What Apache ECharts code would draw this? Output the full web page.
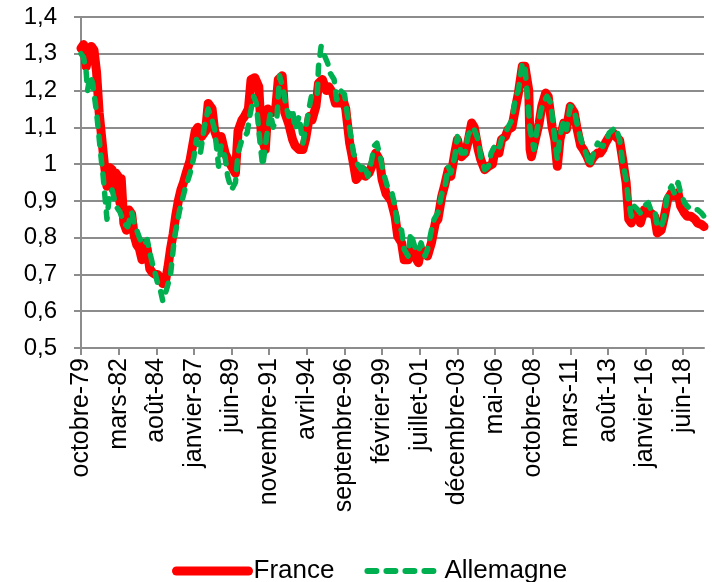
<!DOCTYPE html>
<html><head><meta charset="utf-8">
<script src="https://cdn.jsdelivr.net/npm/echarts@6/dist/echarts.min.js"></script>
<style>html,body{margin:0;padding:0;background:#fff}#c{width:712px;height:582px}</style>
</head><body><div id="c"></div>
<script>
// Month names (French) used to build the monthly categories, Oct 1979 onward
const monthNames = ['janvier','février','mars','avril','mai','juin','juillet','août','septembre','octobre','novembre','décembre'];
const startYear = 1979, startMonthIdx = 9, monthCount = 481;

// Y axis range / tick labels
const yMin = 0.5, yMax = 1.4, yStep = 0.1;

// Series values: [month index from oct-79, value]
const france = [[0,1.315],[2,1.325],[4,1.265],[6,1.30],[8,1.32],[10,1.31],[12,1.25],[14,1.14],[16,1.07],[18,1.0],[20,0.94],[22,0.99],[24,0.985],[25,0.93],[27,0.975],[29,0.965],[30,0.895],[31,0.96],[33,0.84],[35,0.82],[37,0.875],[39,0.865],[41,0.805],[43,0.78],[45,0.77],[47,0.74],[49,0.785],[51,0.77],[53,0.715],[55,0.705],[57,0.70],[59,0.70],[61,0.69],[63,0.675],[65,0.68],[67,0.72],[69,0.77],[71,0.81],[73,0.86],[75,0.90],[77,0.93],[79,0.95],[81,0.975],[84,1.01],[86,1.05],[88,1.09],[90,1.10],[93,1.075],[96,1.09],[98,1.165],[101,1.15],[103,1.09],[106,1.06],[108,1.075],[111,1.03],[115,1.0],[119,0.975],[121,1.09],[124,1.12],[126,1.13],[129,1.15],[131,1.23],[134,1.235],[137,1.21],[139,1.075],[142,1.04],[144,1.15],[147,1.14],[150,1.15],[152,1.23],[155,1.24],[157,1.14],[160,1.11],[163,1.067],[165,1.05],[168,1.04],[171,1.04],[173,1.067],[176,1.13],[178,1.12],[181,1.157],[183,1.22],[186,1.23],[189,1.2],[191,1.21],[194,1.193],[196,1.166],[199,1.166],[201,1.184],[204,1.15],[207,1.057],[209,1.02],[212,0.958],[214,0.967],[217,0.985],[219,0.967],[222,0.976],[225,1.003],[227,1.03],[230,1.012],[232,0.958],[235,0.92],[237,0.91],[239,0.90],[242,0.858],[244,0.804],[247,0.786],[249,0.74],[252,0.74],[255,0.777],[257,0.75],[260,0.732],[262,0.768],[265,0.76],[267,0.75],[270,0.786],[273,0.84],[275,0.85],[278,0.913],[280,0.94],[283,0.985],[285,0.967],[288,1.03],[290,1.067],[293,1.02],[296,1.03],[298,1.057],[301,1.112],[303,1.10],[306,1.04],[308,1.012],[311,0.985],[314,0.994],[317,1.0],[319,1.04],[322,1.03],[324,1.067],[327,1.075],[329,1.094],[332,1.10],[335,1.157],[337,1.193],[340,1.266],[342,1.266],[345,1.20],[346,1.04],[347,1.02],[350,1.067],[353,1.112],[355,1.157],[358,1.193],[360,1.184],[363,1.10],[365,1.067],[367,0.994],[369,1.067],[372,1.112],[374,1.094],[377,1.157],[380,1.14],[382,1.10],[385,1.05],[387,1.04],[390,1.02],[392,1.003],[395,1.02],[398,1.03],[400,1.03],[402,1.04],[404,1.057],[407,1.075],[410,1.085],[412,1.075],[415,1.065],[417,1.02],[420,0.95],[422,0.85],[424,0.84],[426,0.876],[429,0.858],[431,0.84],[434,0.876],[437,0.867],[439,0.867],[442,0.858],[444,0.813],[447,0.82],[449,0.85],[452,0.904],[455,0.922],[457,0.913],[460,0.922],[462,0.886],[465,0.867],[467,0.858],[470,0.858],[473,0.85],[475,0.84],[478,0.836],[480,0.83]];

const allemagne = [[0,1.30],[2,1.29],[4,1.25],[5,1.20],[7,1.24],[9,1.22],[12,1.14],[14,1.07],[16,1.0],[17,0.97],[19,0.89],[20,0.85],[22,0.92],[24,0.93],[26,0.90],[28,0.88],[30,0.87],[33,0.84],[36,0.83],[39,0.87],[41,0.84],[43,0.82],[45,0.80],[47,0.785],[49,0.78],[51,0.795],[53,0.76],[55,0.73],[57,0.705],[59,0.677],[61,0.66],[63,0.628],[66,0.66],[69,0.70],[72,0.80],[76,0.875],[80,0.93],[84,0.975],[87,1.02],[89,1.067],[92,1.03],[95,1.10],[98,1.15],[101,1.12],[103,1.094],[106,0.994],[108,1.05],[111,1.02],[113,0.967],[116,0.93],[119,0.95],[121,1.03],[124,1.067],[128,1.085],[130,1.13],[133,1.184],[135,1.166],[138,1.057],[140,0.994],[143,1.075],[146,1.14],[148,1.10],[151,1.13],[153,1.24],[156,1.2],[158,1.157],[160,1.13],[163,1.15],[165,1.094],[168,1.13],[171,1.057],[173,1.094],[176,1.157],[178,1.193],[182,1.19],[183,1.266],[185,1.32],[187,1.30],[190,1.275],[192,1.247],[195,1.23],[197,1.175],[200,1.2],[203,1.19],[205,1.14],[208,1.075],[210,1.03],[213,1.0],[216,0.985],[218,1.0],[221,0.967],[223,0.994],[226,1.05],[228,1.057],[231,1.012],[233,0.976],[236,0.94],[239,0.93],[242,0.885],[244,0.83],[247,0.82],[249,0.768],[252,0.75],[254,0.813],[257,0.777],[260,0.76],[262,0.786],[265,0.75],[267,0.768],[270,0.82],[272,0.85],[275,0.868],[278,0.92],[280,0.93],[283,0.994],[285,0.976],[288,1.02],[290,1.075],[293,1.03],[296,1.03],[298,1.075],[301,1.10],[303,1.094],[306,1.067],[308,1.02],[311,0.985],[314,0.994],[316,1.03],[319,1.05],[322,1.04],[324,1.067],[327,1.085],[329,1.10],[332,1.12],[335,1.184],[337,1.20],[340,1.275],[342,1.266],[344,1.184],[346,1.094],[349,1.04],[351,1.085],[354,1.14],[356,1.166],[359,1.184],[362,1.166],[364,1.10],[367,1.012],[369,1.075],[372,1.12],[374,1.094],[377,1.157],[380,1.148],[382,1.112],[385,1.067],[387,1.05],[390,1.02],[392,0.994],[395,1.03],[398,1.057],[402,1.048],[405,1.067],[407,1.085],[410,1.094],[412,1.10],[415,1.067],[417,1.012],[420,0.958],[422,0.895],[424,0.858],[426,0.886],[429,0.876],[431,0.867],[434,0.886],[437,0.895],[439,0.876],[442,0.876],[444,0.83],[447,0.83],[449,0.85],[452,0.922],[455,0.94],[457,0.922],[460,0.95],[462,0.922],[465,0.895],[467,0.886],[470,0.876],[473,0.876],[475,0.876],[478,0.867],[480,0.858]];

const categories = [];
for (let k = 0; k < monthCount; k++) {
  const m = (startMonthIdx + k) % 12;
  const y = startYear + Math.floor((startMonthIdx + k) / 12);
  categories.push(monthNames[m] + '-' + String(y % 100).padStart(2, '0'));
}

const FONT = 'Liberation Sans, Arial, sans-serif';
const gray = '#8c8c8c';
const chart = echarts.init(document.getElementById('c'), null, {renderer: 'canvas'});
chart.setOption({
  animation: false,
  backgroundColor: '#fff',
  grid: {left: 81, right: 8, top: 17, bottom: 234, containLabel: false},
  xAxis: {
    type: 'category', data: categories, boundaryGap: false,
    axisLine: {lineStyle: {color: gray, width: 2}},
    axisTick: {show: true, interval: 28, length: 7, lineStyle: {color: gray, width: 2}},
    axisLabel: {interval: 28, rotate: 90, margin: 10, fontSize: 25, color: '#000', fontFamily: FONT},
    splitLine: {show: false}
  },
  yAxis: {
    type: 'value', min: yMin, max: yMax, interval: yStep,
    axisLine: {show: true, lineStyle: {color: gray, width: 2}},
    axisTick: {show: true, length: 7, lineStyle: {color: gray, width: 2}},
    axisLabel: {margin: 24, fontSize: 24, color: '#000', fontFamily: FONT,
      formatter: v => String(Math.round(v * 10) / 10).replace('.', ',')},
    splitLine: {show: true, lineStyle: {color: gray, width: 2}}
  },
  legend: {
    top: 553, left: 167, itemWidth: 72, itemHeight: 14, itemGap: 30,
    itemStyle: {opacity: 0},
    textStyle: {fontSize: 26, color: '#000', fontFamily: FONT},
    data: [
      {name: 'France', lineStyle: {width: 9}},
      {name: 'Allemagne', lineStyle: {width: 6}}
    ]
  },
  series: [
    {name: 'France', type: 'line', data: france, showSymbol: false, symbol: 'none',
      lineStyle: {color: '#ff0000', width: 9, cap: 'round', join: 'round'}, itemStyle: {color: '#ff0000'}},
    {name: 'Allemagne', type: 'line', data: allemagne, showSymbol: false, symbol: 'none',
      lineStyle: {color: '#00b050', width: 5.5, type: [9, 10], cap: 'round', join: 'round'}, itemStyle: {color: '#00b050'}}
  ]
});
</script></body></html>
